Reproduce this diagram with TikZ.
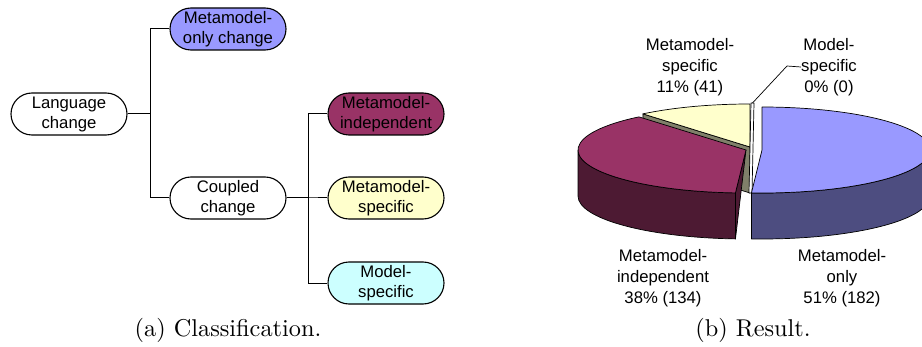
\documentclass[tikz,border=0pt]{standalone}
\usepackage{fontspec}
\setsansfont{Liberation Sans}
\usetikzlibrary{calc}
\definecolor{mblue}{HTML}{9999FF}
\definecolor{mblueside}{HTML}{4D4D80}
\definecolor{mred}{HTML}{993366}
\definecolor{mredside}{HTML}{4D1A33}
\definecolor{myel}{HTML}{FFFFCC}
\definecolor{myelside}{HTML}{80806A}
\definecolor{mcyan}{HTML}{CCFFFF}
\begin{document}
\begin{tikzpicture}[x=1pt,y=1pt,
  cls/.style={draw=black, line width=1.1pt, rounded corners=21pt, minimum width=116pt, minimum height=42pt, inner sep=0pt, align=center, font=\sffamily\fontsize{16.7}{20}\selectfont},
  conn/.style={draw=black, line width=1pt},
  pielbl/.style={align=center, inner sep=0pt, font=\sffamily\fontsize{16.7}{21}\selectfont},
  captext/.style={scale=2.43, inner sep=0pt, font=\rmfamily\fontsize{10}{12}\selectfont},
  pe/.style={draw=black, line width=0.7pt, line join=round}]
\useasboundingbox (0,0) rectangle (922,346);
% classification tree
\node[cls] (L) at (69,232) {Language\\change};
\node[cls, fill=mblue] (MO) at (228,317) {Metamodel-\\only change};
\node[cls] (CC) at (228,148) {Coupled\\change};
\node[cls, fill=mred] (MI) at (386,232) {Metamodel-\\independent};
\node[cls, fill=myel] (MS) at (386,148) {Metamodel-\\specific};
\node[cls, fill=mcyan] (MOS) at (386,63) {Model-\\specific};
\draw[conn] (L.east) -- ++(23,0) |- (MO.west);
\draw[conn] (L.east) -- ++(23,0) |- (CC.west);
\draw[conn] (CC.east) -- ++(22,0) |- (MI.west);
\draw[conn] (CC.east) -- ++(22,0) |- (MS.west);
\draw[conn] (CC.east) -- ++(22,0) |- (MOS.west);
\node[captext] (capA) at (228,16) {(a) Classification.};
% pie
\coordinate (Cb) at (762,196);
\coordinate (Cr) at (746,196);
\coordinate (Cy) at (750,199);
% yellow slice
\filldraw[pe, fill=myelside] (Cy) -- ++({168*cos(-230.4)},{43*sin(-230.4)}) -- ++(0,-46) -- ($(Cy)+(0,-46)$) -- cycle;
\filldraw[pe, fill=myel] (Cy) -- ++({168*cos(-230.4)},{43*sin(-230.4)}) arc[start angle=-230.4, end angle=-270, x radius=168, y radius=43] -- cycle;
% zero slice
\filldraw[pe, fill=white] (751,243) -- (754,243) -- (752,153) -- (749,153) -- cycle;
\coordinate (leadA) at (752.5,243);
% red slice
\filldraw[pe, fill=mredside] (Cr) -- ++({168*cos(-93.6)},{43*sin(-93.6)}) -- ++(0,-46) -- cycle;
\filldraw[pe, fill=mredside] ($(Cr)+({168*cos(-93.6)},{43*sin(-93.6)})$) arc[start angle=-93.6, end angle=-180, x radius=168, y radius=43] -- ++(0,-46) arc[start angle=-180, end angle=-93.6, x radius=168, y radius=43] -- cycle;
\filldraw[pe, fill=mred] (Cr) -- ++({168*cos(-93.6)},{43*sin(-93.6)}) arc[start angle=-93.6, end angle=-230.4, x radius=168, y radius=43] -- cycle;
% blue slice
\filldraw[pe, fill=mblueside] ($(Cb)+(168,0)$) arc[start angle=0, end angle=-93.6, x radius=168, y radius=43] -- ++(0,-46) arc[start angle=-93.6, end angle=0, x radius=168, y radius=43] -- cycle;
\filldraw[pe, fill=mblue] (Cb) -- ++(0,43) arc[start angle=90, end angle=-93.6, x radius=168, y radius=43] -- cycle;
% labels
\node[pielbl] (lMS) at (690,279) {Metamodel-\\specific\\11\% (41)};
\node[pielbl] (lMOS) at (829,279) {Model-\\specific\\0\% (0)};
\node[pielbl] (lMI) at (663,68) {Metamodel-\\independent\\38\% (134)};
\node[pielbl] (lMO) at (842,68) {Metamodel-\\only\\51\% (182)};
\draw[line width=0.7pt] (leadA) -- (787,280) -- (lMOS.west);
\node[captext] (capB) at (753,16) {(b) Result.};
\end{tikzpicture}
\end{document}
